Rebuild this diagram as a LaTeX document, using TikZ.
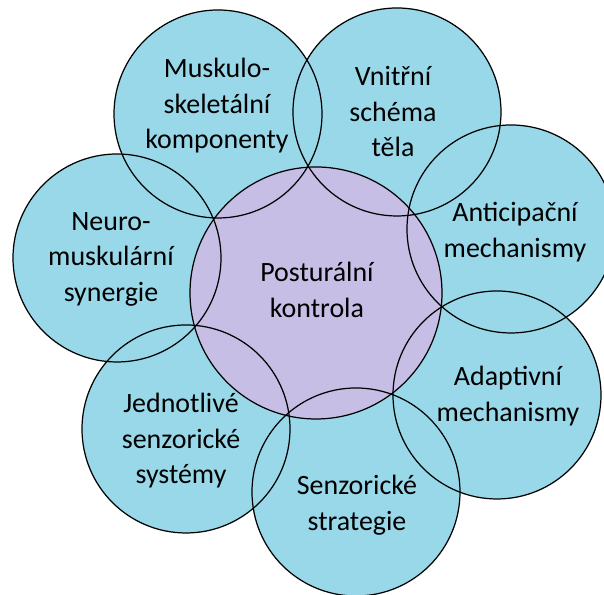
\documentclass[tikz,border=0pt]{standalone}
\usepackage{fontspec}
\setmainfont{Carlito}
\usepackage{tikz}
\definecolor{bubblue}{RGB}{152,216,233}
\definecolor{bubviolet}{RGB}{198,190,229}
\tikzset{
  bubble/.style={circle, fill=bubblue, inner sep=0pt, minimum size=4.16cm},
  core/.style={circle, fill=bubviolet, inner sep=0pt, minimum size=5.04cm},
  txt/.style={align=center, inner sep=0pt, font=\fontsize{15.9}{20.2}\selectfont}
}

\begin{document}
\begin{tikzpicture}
\useasboundingbox (0,0) rectangle (12.08,11.9);
\clip (0,0) rectangle (12.08,11.9);
% outer circles
\node[bubble] (musk) at (4.36,9.62) {};
\node[bubble] (vnit) at (7.94,9.66) {};
\node[bubble] (anti) at (10.22,7.32) {};
\node[bubble] (adap) at (9.94,4.00) {};
\node[bubble] (sstr) at (7.12,2.06) {};
\node[bubble] (jedn) at (3.72,3.32) {};
\node[bubble] (neur) at (2.34,6.74) {};
% centre
\node[core] (post) at (6.32,6.04) {};
% outlines on top
\foreach \n in {musk,vnit,anti,adap,sstr,jedn,neur}
  \draw[line width=0.7pt] (\n.center) circle (2.08);
\draw[line width=0.7pt] (post.center) circle (2.52);
% labels
\node[txt] (musk-t) at (4.34,9.78) {Muskulo-\\skeletální\\komponenty};
\node[txt] (vnit-t) at (7.86,9.66) {Vnitřní\\schéma\\těla};
\node[txt] (anti-t) at (10.30,7.26) {Anticipační\\mechanismy};
\node[txt] (adap-t) at (10.16,3.98) {Adaptivní\\mechanismy};
\node[txt] (sstr-t) at (7.14,1.80) {Senzorické\\strategie};
\node[txt] (jedn-t) at (3.62,3.08) {Jednotlivé\\senzorické\\systémy};
\node[txt] (neur-t) at (2.22,6.72) {Neuro-\\muskulární\\synergie};
\node[txt] (post-t) at (6.34,6.10) {Posturální\\kontrola};
\end{tikzpicture}
\end{document}
